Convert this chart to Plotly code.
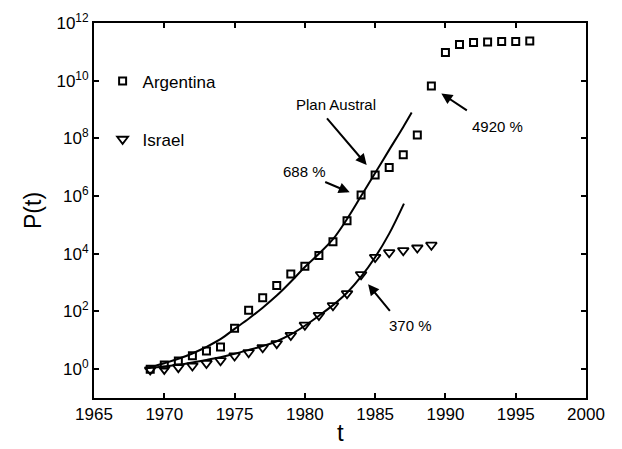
import plotly.graph_objects as go

FONT = "Liberation Sans, Arial, sans-serif"

# Price index P(t), normalised to 1969
years_arg = list(range(1969, 1997))
p_arg = [1.0, 1.4, 1.9, 2.9, 4.3, 5.9, 26, 1.1e2, 3.0e2, 7.9e2,
         2.0e3, 3.7e3, 8.7e3, 2.6e4, 1.4e5, 1.1e6, 5.4e6, 9.8e6, 2.7e7, 1.3e8,
         6.6e9, 9.5e10, 1.8e11, 2.1e11, 2.2e11, 2.3e11, 2.3e11, 2.4e11]

years_isr = list(range(1969, 1990))
p_isr = [0.95, 1.0, 1.15, 1.3, 1.6, 2.0, 2.9, 3.8, 5.6, 7.8,
         15, 34, 74, 1.6e2, 4.2e2, 1.9e3, 7.6e3, 1.1e4, 1.3e4, 1.6e4, 2.0e4]

# Fitted growth curves
fit_t_arg = [1968.7, 1970, 1972, 1974, 1975, 1976, 1977, 1978, 1979, 1980,
             1981, 1982, 1983, 1984, 1985, 1986, 1987, 1987.6]
fit_p_arg = [1.07, 1.6, 3.5, 11, 25, 56, 135, 355, 1.07e3, 3.5e3,
             1.0e4, 3.2e4, 1.6e5, 1.0e6, 6.3e6, 4.0e7, 2.5e8, 7.9e8]

fit_t_isr = [1968.6, 1970, 1971, 1972, 1973, 1974, 1975, 1976, 1977, 1978,
             1979, 1980, 1981, 1982, 1983, 1984, 1985, 1986, 1987.05]
fit_p_isr = [1.05, 1.23, 1.41, 1.7, 2.1, 2.6, 3.4, 4.6, 6.3, 9.3,
             16, 32, 71, 166, 447, 1.6e3, 7.6e3, 5.0e4, 5.5e5]

x_ticks = [1965, 1970, 1975, 1980, 1985, 1990, 1995, 2000]
y_exponents = [0, 2, 4, 6, 8, 10, 12]

fig = go.Figure()

fig.add_trace(go.Scatter(x=fit_t_arg, y=fit_p_arg, mode="lines",
                         line=dict(color="black", width=2, shape="spline"),
                         showlegend=False, hoverinfo="skip"))
fig.add_trace(go.Scatter(x=fit_t_isr, y=fit_p_isr, mode="lines",
                         line=dict(color="black", width=2, shape="spline"),
                         showlegend=False, hoverinfo="skip"))

fig.add_trace(go.Scatter(x=years_arg, y=p_arg, mode="markers", name="Argentina",
                         legendgroup="arg",
                         marker=dict(symbol="square-open", size=7, color="black",
                                     line=dict(width=2, color="black"))))
fig.add_trace(go.Scatter(x=years_isr, y=p_isr, mode="markers", name="Israel",
                         legendgroup="isr",
                         marker=dict(symbol="triangle-down-open", size=9.5, color="black",
                                     line=dict(width=1.8, color="black"))))

# Arrow annotations (head in data coords, tail offset in pixels)
arrows = [
    (1984.40, 7.08, -41, -48),   # Plan Austral
    (1983.19, 6.13, -26, -11),   # 688 %
    (1989.71, 9.56, 27, 18),     # 4920 %
    (1984.50, 2.94, 23, 28),     # 370 %
]
annotations = []
for hx, hy, ax, ay in arrows:
    annotations.append(dict(x=hx, y=hy, xref="x", yref="y", text="",
                            showarrow=True, ax=ax, ay=ay, axref="pixel", ayref="pixel",
                            arrowhead=2, arrowsize=1.1, arrowwidth=2, arrowcolor="black"))

labels = [
    ("Plan Austral", 1982.19, 9.16),
    ("688 %", 1979.99, 6.85),
    ("4920 %", 1993.68, 8.41),
    ("370 %", 1987.49, 1.50),
]
for txt, tx, ty in labels:
    annotations.append(dict(x=tx, y=ty, xref="x", yref="y", text=txt, showarrow=False,
                            font=dict(family=FONT, size=15, color="black"),
                            xanchor="center", yanchor="middle"))

# Axis titles
annotations.append(dict(x=0.5, y=-0.091, xref="paper", yref="paper", text="t",
                        showarrow=False, xanchor="center", yanchor="middle",
                        font=dict(family=FONT, size=24, color="black")))
annotations.append(dict(x=-0.125, y=0.5, xref="paper", yref="paper", text="P(t)",
                        showarrow=False, xanchor="center", yanchor="middle", textangle=-90,
                        font=dict(family=FONT, size=23, color="black")))

fig.update_layout(
    width=622, height=449,
    margin=dict(l=94, r=36, t=23, b=51, autoexpand=False),
    paper_bgcolor="white", plot_bgcolor="white",
    font=dict(family=FONT, size=17, color="black"),
    showlegend=True,
    legend=dict(x=0.0175, y=0.892, xanchor="left", yanchor="top",
                bgcolor="rgba(0,0,0,0)", borderwidth=0,
                font=dict(family=FONT, size=17, color="black"),
                tracegroupgap=33),
    annotations=annotations,
)

fig.update_xaxes(
    range=[1965, 2000], tickvals=x_ticks, ticktext=[str(v) for v in x_ticks],
    showgrid=False, zeroline=False, showline=True, linecolor="black", linewidth=2,
    mirror="ticks", ticks="inside", ticklen=5, tickwidth=2, tickcolor="black",
    tickfont=dict(family=FONT, size=17), automargin=False,
)
fig.update_yaxes(
    type="log", range=[-1, 12],
    tickvals=[10.0 ** e for e in y_exponents],
    ticktext=["10<sup>%d</sup>" % e for e in y_exponents],
    showgrid=False, zeroline=False, showline=True, linecolor="black", linewidth=2,
    mirror="ticks", ticks="inside", ticklen=5, tickwidth=2, tickcolor="black",
    tickfont=dict(family=FONT, size=17), automargin=False,
)

fig.write_html("out.html")
